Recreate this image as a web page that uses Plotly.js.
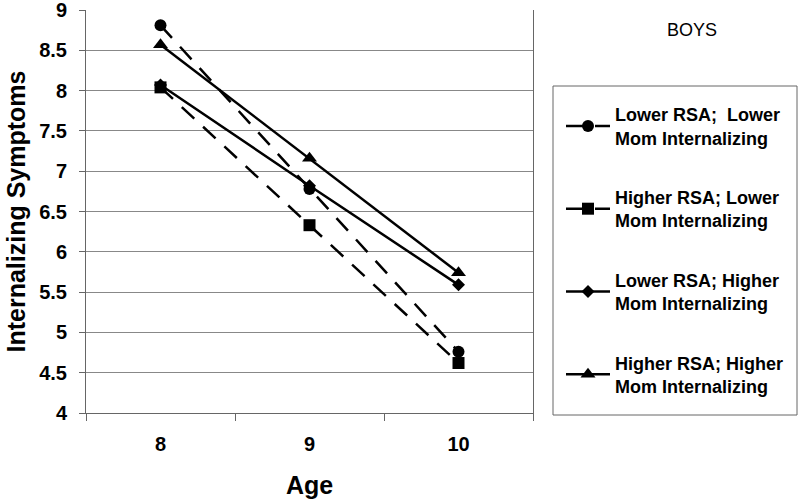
<!DOCTYPE html>
<html>
<head>
<meta charset="utf-8">
<script src="https://cdn.plot.ly/plotly-3.0.1.min.js"></script>
<style>html,body{margin:0;padding:0;background:#fff;}#chart{width:800px;height:500px;}</style>
</head>
<body>
<div id="chart"></div>
<script>
const ages = ['8', '9', '10'];
const seriesNames = [
  'Lower RSA;\u00a0 Lower<br>Mom Internalizing',
  'Higher RSA; Lower<br>Mom Internalizing',
  'Lower RSA; Higher<br>Mom Internalizing',
  'Higher RSA; Higher<br>Mom Internalizing'
];
const lowerRsaLowerMom = [8.81, 6.78, 4.76];
const higherRsaLowerMom = [8.04, 6.33, 4.62];
const lowerRsaHigherMom = [8.07, 6.82, 5.59];
const higherRsaHigherMom = [8.57, 7.16, 5.74];
const yTicks = [4, 4.5, 5, 5.5, 6, 6.5, 7, 7.5, 8, 8.5, 9];
const yTickText = ['4', '4.5', '5', '5.5', '6', '6.5', '7', '7.5', '8', '8.5', '9'];

const seriesValues = [lowerRsaLowerMom, higherRsaLowerMom, lowerRsaHigherMom, higherRsaHigherMom];
const symbols = ['circle', 'square', 'diamond', 'triangle-up'];
const sizes = [12, 12, 10, 13];
const dashes = ['17px,12px', '17px,12px', 'solid', 'solid'];
const bold = s => '<b>' + s + '</b>';

const traces = seriesValues.map((vals, i) => ({
  x: ages,
  y: vals,
  name: seriesNames[i],
  type: 'scatter',
  mode: 'lines+markers',
  legendgroup: 'g' + i,
  line: {color: '#000', width: 2.5, dash: dashes[i]},
  marker: {color: '#000', symbol: symbols[i], size: sizes[i]}
}));

const L = 86, R = 267, T = 10, B = 87;
const PW = 800 - L - R, PH = 500 - T - B;
const px = v => (v - L) / PW;
const py = v => (500 - B - v) / PH;
const boldFont = 'Arial, Liberation Sans, sans-serif';

const layout = {
  width: 800, height: 500,
  margin: {l: L, r: R, t: T, b: B},
  paper_bgcolor: '#fff', plot_bgcolor: '#fff',
  font: {family: boldFont, color: '#000'},
  showlegend: true,
  legend: {
    x: px(561), xanchor: 'left', y: py(96), yanchor: 'top',
    font: {size: 18, family: boldFont, weight: 700, color: '#000'},
    tracegroupgap: 33, itemwidth: 44,
    bgcolor: 'rgba(0,0,0,0)', borderwidth: 0
  },
  xaxis: {
    type: 'category',
    range: [-0.5, 2.5],
    tickson: 'boundaries',
    tickmode: 'array', tickvals: ages, ticktext: ages.map(bold),
    ticks: 'outside', ticklen: 7, tickcolor: '#666',
    showline: true, linecolor: '#666', linewidth: 1,
    showgrid: false, zeroline: false,
    tickfont: {size: 20, family: boldFont, weight: 700, color: '#000'},
    ticklabelstandoff: 13,
    title: {text: 'Age', font: {size: 25, family: boldFont, weight: 700, color: '#000'}, standoff: 22},
    automargin: false, fixedrange: true
  },
  yaxis: {
    range: [4, 9],
    tickmode: 'array', tickvals: yTicks, ticktext: yTickText.map(bold),
    ticks: 'outside', ticklen: 6, tickcolor: '#666',
    showline: true, linecolor: '#666', linewidth: 1, mirror: true,
    showgrid: true, gridcolor: '#888', gridwidth: 1,
    zeroline: false,
    ticklabeloverflow: 'allow',
    tickfont: {size: 20, family: boldFont, weight: 700, color: '#000'},
    ticklabelstandoff: 8,
    title: {text: 'Internalizing Symptoms', font: {size: 25, family: boldFont, weight: 700, color: '#000'}, standoff: 6},
    automargin: false, fixedrange: true
  },
  shapes: [{
    type: 'rect', xref: 'paper', yref: 'paper',
    x0: px(553), x1: px(797), y0: py(415), y1: py(86),
    line: {color: '#666', width: 1}, fillcolor: 'rgba(0,0,0,0)', layer: 'below'
  }],
  annotations: [{
    text: 'BOYS', xref: 'paper', yref: 'paper',
    x: px(692), y: py(30), xanchor: 'center', yanchor: 'middle',
    showarrow: false,
    font: {size: 18, family: 'Liberation Sans, Arial, sans-serif', color: '#000'}
  }]
};

Plotly.newPlot('chart', traces, layout, {displayModeBar: false, staticPlot: true});
</script>
</body>
</html>
